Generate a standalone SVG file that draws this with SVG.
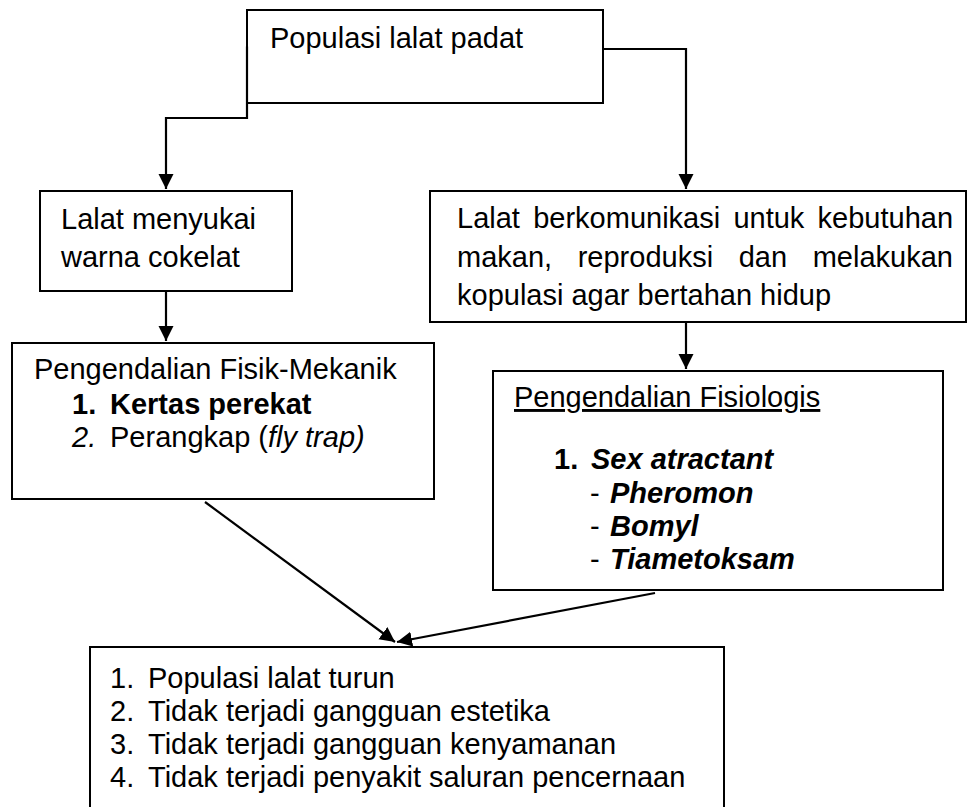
<svg xmlns="http://www.w3.org/2000/svg" width="968" height="807" viewBox="0 0 968 807">
<defs>
<style>
.box{fill:#fff;stroke:#000;stroke-width:2}
.t{font-family:"Liberation Sans",Arial,sans-serif;font-size:29px;fill:#000}
.b{font-weight:bold}
.i{font-style:italic}
.con{fill:none;stroke:#000;stroke-width:2.2}
</style>
<marker id="ah" markerUnits="userSpaceOnUse" markerWidth="16" markerHeight="16" refX="15" refY="7.5" orient="auto">
<path d="M0,0 L15,7.5 L0,15 z" fill="#000"/>
</marker>
</defs>
<rect width="968" height="807" fill="#fff"/>

<g id="node-top">
<rect class="box" x="247" y="10" width="356" height="93"/>
<text class="t" x="270" y="48">Populasi lalat padat</text>
</g>

<g id="node-coklat">
<rect class="box" x="40" y="191" width="252" height="100"/>
<text class="t" x="61" y="229">Lalat menyukai</text>
<text class="t" x="61" y="267">warna cokelat</text>
</g>

<g id="node-komunikasi">
<rect class="box" x="430" y="191" width="536" height="131"/>
<text class="t" y="228"><tspan x="457">Lalat</tspan><tspan x="533.2">berkomunikasi</tspan><tspan x="733.4">untuk</tspan><tspan x="817.6">kebutuhan</tspan></text>
<text class="t" y="267"><tspan x="457">makan,</tspan><tspan x="577.7">reproduksi</tspan><tspan x="738.7">dan</tspan><tspan x="812.7">melakukan</tspan></text>
<text class="t" x="457" y="305">kopulasi agar bertahan hidup</text>
</g>

<g id="node-fisik">
<rect class="box" x="12" y="343" width="422" height="156"/>
<text class="t" x="34" y="379">Pengendalian Fisik-Mekanik</text>
<text class="t b" x="72" y="414">1.</text>
<text class="t b" x="110" y="414">Kertas perekat</text>
<text class="t i" x="72" y="447">2.</text>
<text class="t" x="110" y="447">Perangkap (<tspan class="i">fly trap)</tspan></text>
</g>

<g id="node-fisiologis">
<rect class="box" x="493" y="371" width="450" height="219"/>
<text class="t" x="514" y="407" text-decoration="underline">Pengendalian Fisiologis</text>
<text class="t b" x="554" y="469">1.</text>
<text class="t b i" x="591" y="469">Sex atractant</text>
<text class="t" x="590" y="503">-</text>
<text class="t b i" x="610" y="503">Pheromon</text>
<text class="t" x="590" y="536">-</text>
<text class="t b i" x="610" y="536">Bomyl</text>
<text class="t" x="590" y="569">-</text>
<text class="t b i" x="610" y="569">Tiametoksam</text>
</g>

<g id="node-hasil">
<rect class="box" x="90" y="647" width="634" height="180"/>
<text class="t" x="110" y="688">1.</text><text class="t" x="148" y="688">Populasi lalat turun</text>
<text class="t" x="110" y="721">2.</text><text class="t" x="148" y="721">Tidak terjadi gangguan estetika</text>
<text class="t" x="110" y="754">3.</text><text class="t" x="148" y="754">Tidak terjadi gangguan kenyamanan</text>
<text class="t" x="110" y="787">4.</text><text class="t" x="148" y="787">Tidak terjadi penyakit saluran pencernaan</text>
</g>

<g id="connectors">
<path class="con" d="M247,46.5 V118 H166 V189" marker-end="url(#ah)"/>
<path class="con" d="M603,49 H686 V189" marker-end="url(#ah)"/>
<path class="con" d="M166,291 V341" marker-end="url(#ah)"/>
<path class="con" d="M686,322 V369" marker-end="url(#ah)"/>
<path class="con" d="M205,502 L395,642" marker-end="url(#ah)"/>
<path class="con" d="M655,593 L397,642" marker-end="url(#ah)"/>
</g>
</svg>
